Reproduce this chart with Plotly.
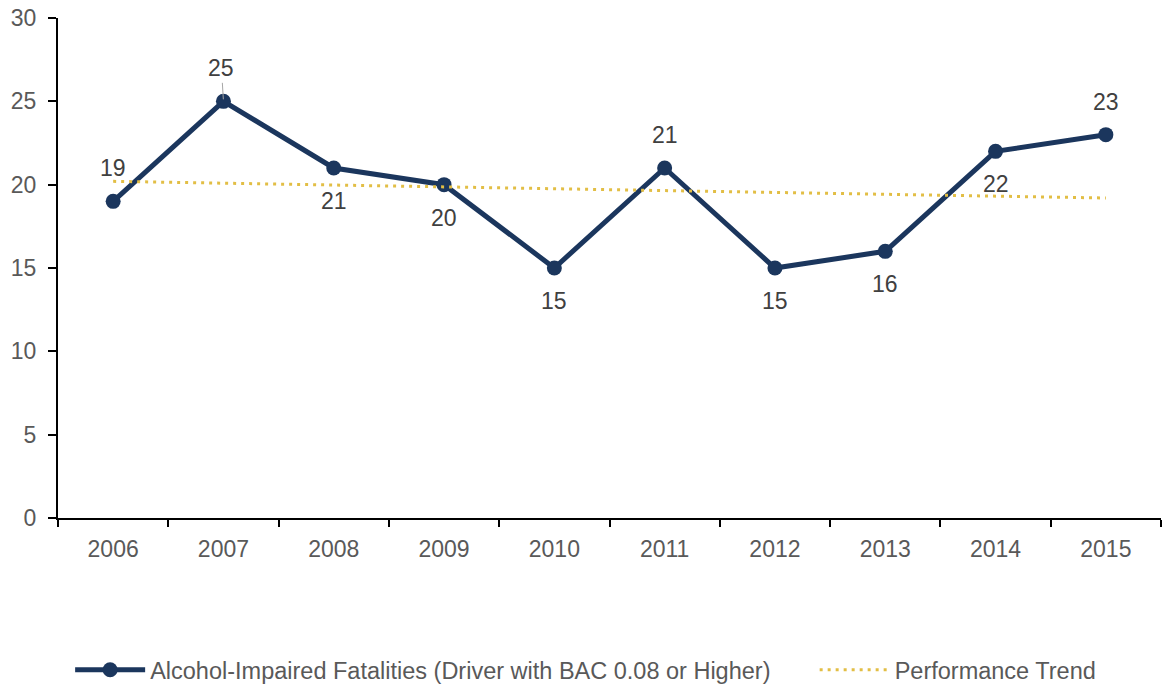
import plotly.graph_objects as go

years = ["2006", "2007", "2008", "2009", "2010", "2011", "2012", "2013", "2014", "2015"]
fatalities = [19, 25, 21, 20, 15, 21, 15, 16, 22, 23]
trend_years = ["2006", "2015"]
trend_values = [20.2, 19.2]
y_ticks = [0, 5, 10, 15, 20, 25, 30]

NAVY = "#1B365D"
GOLD = "#E2BE45"
TXT = "#595959"
LBL = "#404040"
FONT = "Liberation Sans, Arial, sans-serif"
FS = 23

# label placement: +1 above, -1 below
placement = [1, 1, -1, -1, -1, 1, -1, -1, -1, 1]

fig = go.Figure()
fig.add_trace(go.Scatter(
    x=years, y=fatalities, mode="lines+markers",
    name="Alcohol-Impaired Fatalities (Driver with BAC 0.08 or Higher)",
    line=dict(color=NAVY, width=5),
    marker=dict(color=NAVY, size=15),
    legend="legend",
))
fig.add_trace(go.Scatter(
    x=trend_years, y=trend_values, mode="lines",
    name="Performance Trend",
    line=dict(color=GOLD, width=3, dash="3px,5px"),
    legend="legend2",
))

for i, (yr, v) in enumerate(zip(years, fatalities)):
    if yr == "2007":
        fig.add_annotation(x=i, y=v, xref="x", yref="y", text=str(v),
                           showarrow=True, arrowhead=0, arrowwidth=1,
                           arrowcolor="#A6A6A6", ax=-2, ay=-33, standoff=2,
                           font=dict(family=FONT, size=FS, color=LBL))
    else:
        fig.add_annotation(x=i, y=v, xref="x", yref="y", text=str(v),
                           showarrow=False, yshift=33 * placement[i],
                           font=dict(family=FONT, size=FS, color=LBL))

legend_common = dict(orientation="h", xanchor="left", y=-0.304,
                     yanchor="middle", itemwidth=70,
                     font=dict(family=FONT, size=23.5, color=TXT))

fig.update_layout(
    width=1163, height=688,
    margin=dict(l=58, r=2, t=18, b=170, autoexpand=False),
    plot_bgcolor="white", paper_bgcolor="white",
    font=dict(family=FONT, size=FS, color=TXT),
    showlegend=True,
    legend=dict(x=0.011, **legend_common),
    legend2=dict(x=0.686, **legend_common),
    xaxis=dict(type="category", range=[-0.5, 9.5], showgrid=False,
               showline=True, linecolor="black", linewidth=2,
               ticks="outside", ticklen=7, tickwidth=2, tickcolor="black",
               tickson="boundaries", ticklabelstandoff=9,
               tickfont=dict(family=FONT, size=FS, color=TXT)),
    yaxis=dict(range=[0, 30], tickvals=y_ticks, showgrid=False, zeroline=False,
               showline=True, linecolor="black", linewidth=2,
               ticks="outside", ticklen=8, tickwidth=2, tickcolor="black",
               ticklabelstandoff=7,
               tickfont=dict(family=FONT, size=FS, color=TXT)),
)

fig.write_html("out.html", config={"displayModeBar": False},
               post_script="document.body.style.margin='0';")
